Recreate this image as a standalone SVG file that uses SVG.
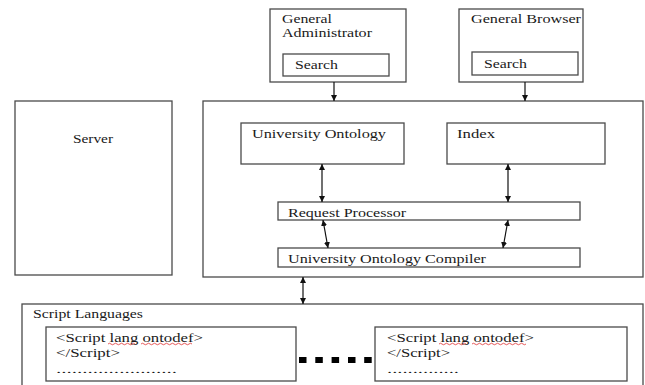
<svg xmlns="http://www.w3.org/2000/svg" width="645" height="385" viewBox="0 0 645 385">
<style>
.box{fill:#fff;stroke:#4a4a4a;stroke-width:1.3}
.t{font-family:"Liberation Serif","Times New Roman","DejaVu Serif",serif;font-size:13.5px;fill:#1a1a1a}
.c{stroke:#111;stroke-width:1.2;fill:none}
.sq{stroke:#e03030;stroke-width:0.8;fill:none}
</style>
<defs>
<marker id="ah" viewBox="0 0 10 10" refX="10" refY="5" markerWidth="6" markerHeight="6" markerUnits="userSpaceOnUse" orient="auto-start-reverse">
<path d="M0,0 L10,5 L0,10 Z" fill="#111"/>
</marker>
<clipPath id="cRP"><rect x="278" y="202" width="302" height="18"/></clipPath>
<clipPath id="cUOC"><rect x="278" y="248" width="302" height="18.5"/></clipPath>
</defs>
<rect width="645" height="385" fill="#fff"/>

<g id="admin">
<rect class="box" x="270" y="9" width="136" height="73"/>
<text class="t" x="282" y="23" textLength="50" lengthAdjust="spacingAndGlyphs" style="font-size:12.5px">General</text>
<text class="t" x="282" y="37" textLength="90" lengthAdjust="spacingAndGlyphs" style="font-size:12.5px">Administrator</text>
<rect class="box" x="283" y="54" width="106" height="22"/>
<text class="t" x="295" y="69" textLength="43" lengthAdjust="spacingAndGlyphs">Search</text>
</g>

<g id="browser">
<rect class="box" x="459" y="9" width="124" height="73"/>
<text class="t" x="471" y="23" textLength="110" lengthAdjust="spacingAndGlyphs">General Browser</text>
<rect class="box" x="472" y="52" width="106" height="23"/>
<text class="t" x="484" y="68" textLength="43" lengthAdjust="spacingAndGlyphs">Search</text>
</g>

<g id="server">
<rect class="box" x="15" y="101" width="157" height="174"/>
<text class="t" x="73" y="143" textLength="40" lengthAdjust="spacingAndGlyphs">Server</text>
</g>

<g id="main">
<rect class="box" x="203" y="101" width="440" height="176"/>
</g>

<g id="ontology">
<rect class="box" x="241" y="123" width="163" height="41"/>
<text class="t" x="252" y="138" textLength="134" lengthAdjust="spacingAndGlyphs">University Ontology</text>
</g>

<g id="index">
<rect class="box" x="447" y="123" width="158" height="41"/>
<text class="t" x="457" y="138" textLength="38" lengthAdjust="spacingAndGlyphs">Index</text>
</g>

<g id="request">
<rect class="box" x="278" y="202" width="302" height="18"/>
<text class="t" x="288" y="217" textLength="118" lengthAdjust="spacingAndGlyphs" clip-path="url(#cRP)">Request Processor</text>
</g>

<g id="compiler">
<rect class="box" x="278" y="248" width="302" height="19"/>
<text class="t" x="288" y="263" textLength="198" lengthAdjust="spacingAndGlyphs" clip-path="url(#cUOC)">University Ontology Compiler</text>
</g>

<g id="scripts">
<rect class="box" x="22" y="304" width="621" height="100"/>
<text class="t" x="33" y="318" textLength="110" lengthAdjust="spacingAndGlyphs">Script Languages</text>
</g>

<g id="script1">
<rect class="box" x="46" y="327" width="250" height="54"/>
<text class="t" x="56" y="342" textLength="147" lengthAdjust="spacingAndGlyphs">&lt;Script lang ontodef&gt;</text>
<text class="t" x="56" y="357" textLength="64" lengthAdjust="spacingAndGlyphs">&lt;/Script&gt;</text>
<text class="t" x="56" y="373" textLength="121" lengthAdjust="spacingAndGlyphs" style="font-size:11px">.......................</text>
<path class="sq" d="M108,344 q1.5,-1.5 3,0 t3,0 t3,0 t3,0 t3,0 t3,0 t3,0 t3,0 t3,0"/>
<path class="sq" d="M141,344 q1.5,-1.5 3,0 t3,0 t3,0 t3,0 t3,0 t3,0 t3,0 t3,0 t3,0 t3,0 t3,0 t3,0 t3,0 t3,0 t3,0 t3,0 t3,0"/>
</g>

<g id="script2">
<rect class="box" x="375" y="327" width="252" height="54"/>
<text class="t" x="387" y="342" textLength="147" lengthAdjust="spacingAndGlyphs">&lt;Script lang ontodef&gt;</text>
<text class="t" x="387" y="357" textLength="63" lengthAdjust="spacingAndGlyphs">&lt;/Script&gt;</text>
<text class="t" x="387" y="373" textLength="72" lengthAdjust="spacingAndGlyphs" style="font-size:11px">..............</text>
<path class="sq" d="M439,344 q1.5,-1.5 3,0 t3,0 t3,0 t3,0 t3,0 t3,0 t3,0 t3,0 t3,0"/>
<path class="sq" d="M472,344 q1.5,-1.5 3,0 t3,0 t3,0 t3,0 t3,0 t3,0 t3,0 t3,0 t3,0 t3,0 t3,0 t3,0 t3,0 t3,0 t3,0 t3,0 t3,0 t3,0"/>
</g>

<g id="ellipsis" fill="#000">
<rect x="299" y="357" width="7.5" height="6"/>
<rect x="315.3" y="357" width="7.5" height="6"/>
<rect x="331.6" y="357" width="7.5" height="6"/>
<rect x="348" y="357" width="7.5" height="6"/>
<rect x="364.2" y="357" width="7.5" height="6"/>
</g>

<g id="connectors">
<line class="c" x1="334" y1="82" x2="334" y2="101" marker-end="url(#ah)"/>
<line class="c" x1="525" y1="82" x2="525" y2="101" marker-end="url(#ah)"/>
<line class="c" x1="322" y1="164" x2="322" y2="202" marker-start="url(#ah)" marker-end="url(#ah)"/>
<line class="c" x1="508" y1="164" x2="508" y2="202" marker-start="url(#ah)" marker-end="url(#ah)"/>
<line class="c" x1="323" y1="220" x2="328" y2="248" marker-start="url(#ah)" marker-end="url(#ah)"/>
<line class="c" x1="508" y1="220" x2="503" y2="248" marker-start="url(#ah)" marker-end="url(#ah)"/>
<line class="c" x1="303" y1="277" x2="303" y2="304" marker-start="url(#ah)" marker-end="url(#ah)"/>
</g>
</svg>
